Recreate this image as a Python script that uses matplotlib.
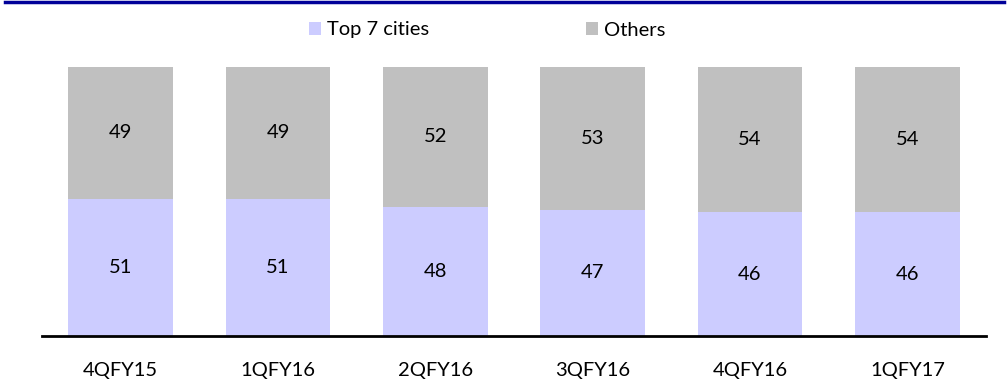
import matplotlib
matplotlib.use("Agg")
import matplotlib.pyplot as plt
from matplotlib.patches import Patch
from matplotlib.lines import Line2D

categories = ["4QFY15", "1QFY16", "2QFY16", "3QFY16", "4QFY16", "1QFY17"]
top7 = [51, 51, 48, 47, 46, 46]
others = [49, 49, 52, 53, 54, 54]

plt.rcParams['font.family'] = ['Lato', 'DejaVu Sans']

W, H = 1008, 383
fig = plt.figure(figsize=(W / 100, H / 100), dpi=100)
ax = fig.add_axes([42 / W, (H - 336) / H, (986 - 42) / W, (336 - 67) / H])

FS = 14.5
c_top = "#CCCCFF"
c_oth = "#C0C0C0"
x = list(range(len(categories)))
ax.bar(x, top7, width=0.667, color=c_top, linewidth=0)
ax.bar(x, others, width=0.667, bottom=top7, color=c_oth, linewidth=0)

for xi, t, o in zip(x, top7, others):
    ax.text(xi, t / 2, f"{t}", ha="center", va="center", fontsize=FS, color="black")
    ax.text(xi, t + o / 2, f"{o}", ha="center", va="center", fontsize=FS, color="black")

ax.set_xlim(-0.5, len(categories) - 0.5)
ax.set_ylim(0, 100)
ax.set_xticks(x)
ax.set_xticklabels(categories, fontsize=FS)
ax.tick_params(axis="x", length=0, pad=19)
ax.set_yticks([])
for s in ["top", "right", "left"]:
    ax.spines[s].set_visible(False)
ax.spines["bottom"].set_linewidth(2)
ax.spines["bottom"].set_color("black")

# top rule
fig.add_artist(Line2D([5 / W, 1004 / W], [1 - 1.5 / H, 1 - 1.5 / H], color="#000099", linewidth=2.5))

handles = [Patch(facecolor=c_top, edgecolor="none"), Patch(facecolor=c_oth, edgecolor="none")]
fig.legend(handles, ["Top 7 cities", "Others"], loc="center", bbox_to_anchor=(487 / W, 1 - 30 / H),
           ncol=2, frameon=False, fontsize=FS, handlelength=0.6, handleheight=0.6,
           handletextpad=0.3, columnspacing=7.8)

fig.savefig("out.png", dpi=100)
